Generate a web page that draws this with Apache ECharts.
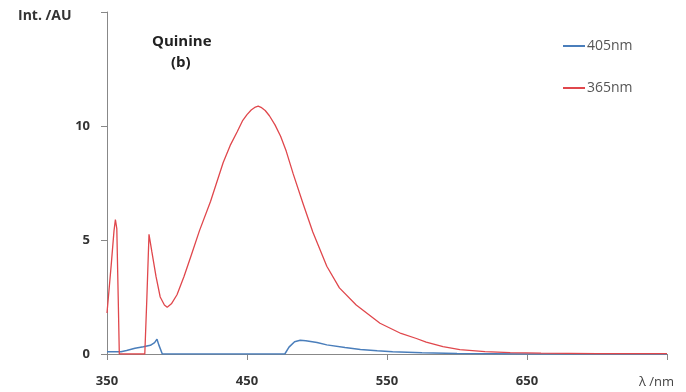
<!DOCTYPE html>
<html>
<head>
    <meta charset="utf-8">
    <title>Quinine</title>
    <script src="https://cdn.jsdelivr.net/npm/echarts@6/dist/echarts.min.js"></script>
    <style>
        body { margin: 0; background: #fff; }
        #main { width: 686px; height: 392px; }
    </style>
</head>
<body>
    <div id="main"></div>
    <script type="text/javascript">
        // 365 nm excitation
        var redWave = [350, 353, 355, 356, 357, 358, 358.8, 377, 378.5, 380, 382, 385, 388, 391, 393, 396, 400, 405, 410, 416,
            424, 433, 438, 443, 447, 450, 453, 456, 458, 460, 463, 466, 470, 474, 478, 483, 490, 497, 507, 516,
            528, 545, 560, 571, 578, 590, 602, 620, 638, 660, 700, 750];
        var redInt = [1.8, 3.9, 5.4, 5.9, 5.5, 2.5, 0, 0, 2.5, 5.25, 4.5, 3.4, 2.5, 2.15, 2.05, 2.2, 2.6, 3.4, 4.3, 5.4,
            6.7, 8.4, 9.15, 9.75, 10.25, 10.5, 10.7, 10.83, 10.87, 10.82, 10.68, 10.45, 10.05, 9.55, 8.9, 7.9, 6.6, 5.35, 3.85, 2.9,
            2.15, 1.35, 0.9, 0.68, 0.52, 0.32, 0.19, 0.1, 0.06, 0.04, 0.02, 0.02];

        // 405 nm excitation
        var blueWave = [350, 360, 364, 370, 376, 381, 384, 385.7, 387, 389.5, 400, 477, 480, 484, 488, 492, 500, 507, 520, 531,
            543, 554, 575, 600, 650, 750];
        var blueInt = [0.1, 0.1, 0.15, 0.25, 0.32, 0.38, 0.5, 0.65, 0.4, 0, 0, 0, 0.3, 0.54, 0.6, 0.58, 0.5, 0.4, 0.28, 0.2,
            0.14, 0.1, 0.05, 0.02, 0, 0];

        var xTicks = [350, 450, 550, 650];
        var yTicks = [0, 5, 10];

        function zip(a, b) {
            var out = [];
            for (var i = 0; i < a.length; i++) out.push([a[i], b[i]]);
            return out;
        }

        var myChart = echarts.init(document.getElementById('main'));
        var labelFont = { color: '#333', fontWeight: 'bold', fontSize: 13, fontFamily: 'Open Sans' };

        var option = {
            backgroundColor: '#fff',
            animation: false,
            grid: { left: 107, right: 19, top: 12, bottom: 38 },
            legend: {
                orient: 'vertical',
                left: 557,
                top: 34,
                itemGap: 28,
                itemWidth: 22,
                itemHeight: 14,
                itemStyle: { opacity: 0 },
                textStyle: { color: '#555', fontSize: 14, fontFamily: 'Open Sans', padding: [0, 0, 0, -3] },
                data: ['405nm', '365nm']
            },
            xAxis: {
                type: 'value',
                min: 350,
                max: 750,
                interval: 100,
                axisLine: { lineStyle: { color: '#888' } },
                axisTick: { show: true, length: 6, inside: false, lineStyle: { color: '#888' } },
                splitLine: { show: false },
                axisLabel: Object.assign({
                    margin: 21,
                    formatter: function (v) { return xTicks.indexOf(v) >= 0 ? v : ''; }
                }, labelFont)
            },
            yAxis: {
                type: 'value',
                min: 0,
                max: 15,
                interval: 5,
                axisLine: { show: true, lineStyle: { color: '#888' } },
                axisTick: { show: true, length: 6, lineStyle: { color: '#888' } },
                splitLine: { show: false },
                axisLabel: Object.assign({
                    margin: 17,
                    formatter: function (v) { return yTicks.indexOf(v) >= 0 ? v : ''; }
                }, labelFont)
            },
            graphic: [
                { type: 'text', left: 18, top: 9, style: { text: 'Int. /AU', fill: '#333', font: 'bold 14px "Open Sans"' } },
                { type: 'text', left: 152, top: 34, style: { text: 'Quinine', fill: '#222', font: 'bold 15px "Open Sans"' } },
                { type: 'text', left: 171, top: 55, style: { text: '(b)', fill: '#222', font: 'bold 15px "Open Sans"' } },
                { type: 'text', left: 639, top: 376, style: { text: 'λ /nm', fill: '#444', font: '13px "Open Sans"' } }
            ],
            series: [
                {
                    name: '405nm',
                    type: 'line',
                    symbol: 'none',
                    color: '#4a7ebb',
                    lineStyle: { width: 1.5 },
                    data: zip(blueWave, blueInt)
                },
                {
                    name: '365nm',
                    type: 'line',
                    symbol: 'none',
                    color: '#e0474c',
                    lineStyle: { width: 1.3 },
                    data: zip(redWave, redInt)
                }
            ]
        };
        myChart.setOption(option);
    </script>
</body>
</html>
